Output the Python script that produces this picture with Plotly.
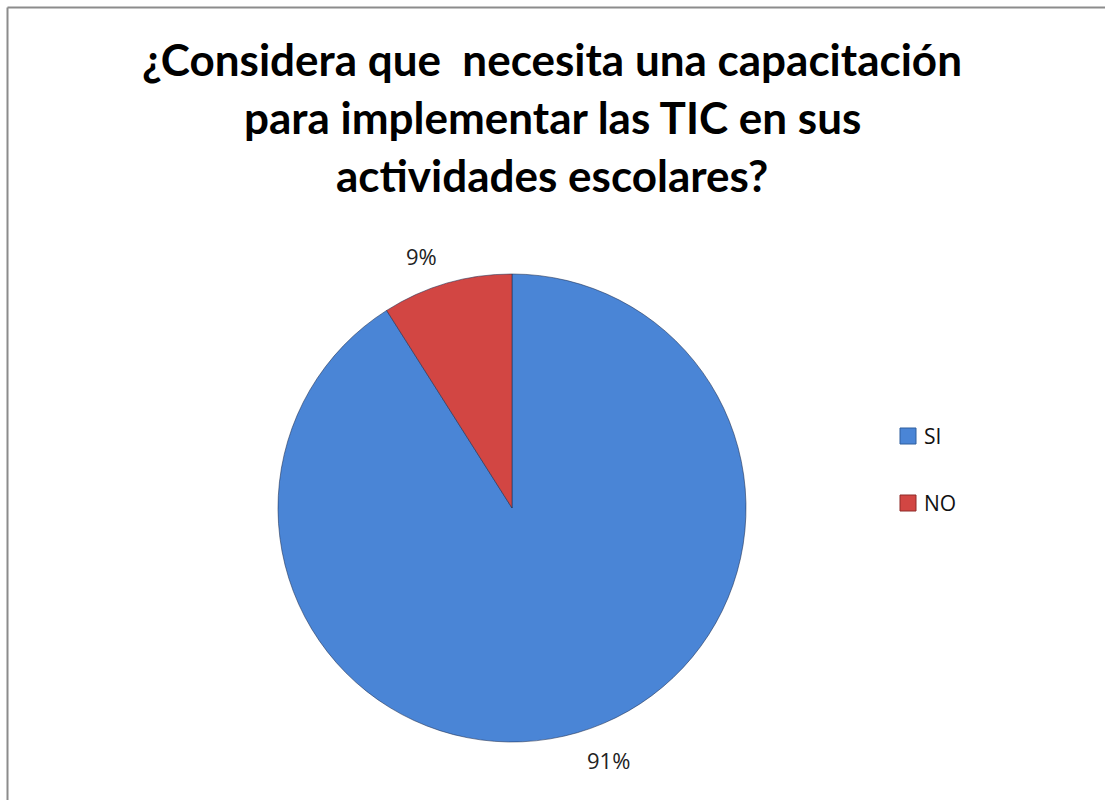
import numpy as np
import plotly.graph_objects as go

# ---- data ----
categories = ["SI", "NO"]
values = [91, 9]
pct_labels = ["91%", "9%"]
colors = ["#4A85D6", "#D24643"]
edge_colors = ["#2F5F9E", "#8E2A28"]
title_lines = ["¿Considera que  necesita una capacitación",
               "para implementar las TIC en sus",
               "actividades escolares?"]

W, H = 1105, 800
# pie geometry (pixels)
cx, cy, r = 512, 508, 234

fig = go.Figure()
fig.add_trace(go.Pie(
    labels=categories, values=values, sort=False, direction="clockwise",
    rotation=0, textinfo="none", hoverinfo="label+percent",
    marker=dict(colors=colors, line=dict(color="rgba(30,45,80,0.55)", width=1)),
    domain=dict(x=[(cx - r) / W, (cx + r) / W], y=[(H - cy - r) / H, (H - cy + r) / H]),
    showlegend=False,
))

# percentage labels placed outside slices, from the data
vals = np.array(values, dtype=float)
frac = vals / vals.sum()
cum = np.concatenate([[0], np.cumsum(frac)])
annotations = []
for i, lab in enumerate(pct_labels):
    mid = (cum[i] + cum[i + 1]) / 2 * 2 * np.pi
    rr = r * 1.12
    px = cx + rr * np.sin(mid)
    py = cy - rr * np.cos(mid)
    annotations.append(dict(x=px / W, y=1 - py / H, xref="paper", yref="paper",
                            xanchor="left" if np.sin(mid) >= 0 else "right", yanchor="middle",
                            text=lab, showarrow=False,
                            font=dict(family="Open Sans, sans-serif", size=22, color="#222")))

# legend (manual)
shapes = []
leg_x, leg_y0, leg_dy, box = 900, 436, 67, 16
for i, cat in enumerate(categories):
    yc = leg_y0 + i * leg_dy
    shapes.append(dict(type="rect", xref="paper", yref="paper",
                       x0=leg_x / W, x1=(leg_x + box) / W,
                       y0=1 - (yc + box / 2) / H, y1=1 - (yc - box / 2) / H,
                       fillcolor=colors[i], line=dict(color=edge_colors[i], width=1)))
    annotations.append(dict(x=(leg_x + box + 6) / W, y=1 - yc / H, xref="paper", yref="paper",
                            xanchor="left", yanchor="middle", text=cat, showarrow=False,
                            font=dict(family="Open Sans, sans-serif", size=21, color="#111")))

# title lines
for i, t in enumerate(title_lines):
    annotations.append(dict(x=552 / W, y=1 - (59 + i * 58) / H, xref="paper", yref="paper",
                            xanchor="center", yanchor="middle", text="<b>%s</b>" % t.replace("  ", "&nbsp; "),
                            showarrow=False,
                            font=dict(family="Lato, sans-serif", size=44, color="#000")))

# border (top and left)
shapes.append(dict(type="line", xref="paper", yref="paper", x0=7.5 / W, x1=1, y0=1 - 7.5 / H, y1=1 - 7.5 / H,
                   line=dict(color="#8C8C8C", width=2)))
shapes.append(dict(type="line", xref="paper", yref="paper", x0=7.5 / W, x1=7.5 / W, y0=0, y1=1 - 7.5 / H,
                   line=dict(color="#8C8C8C", width=2)))

fig.update_layout(
    width=W, height=H, margin=dict(l=0, r=0, t=0, b=0),
    paper_bgcolor="white", plot_bgcolor="white",
    annotations=annotations, shapes=shapes, showlegend=False,
)
fig.write_html("out.html")
